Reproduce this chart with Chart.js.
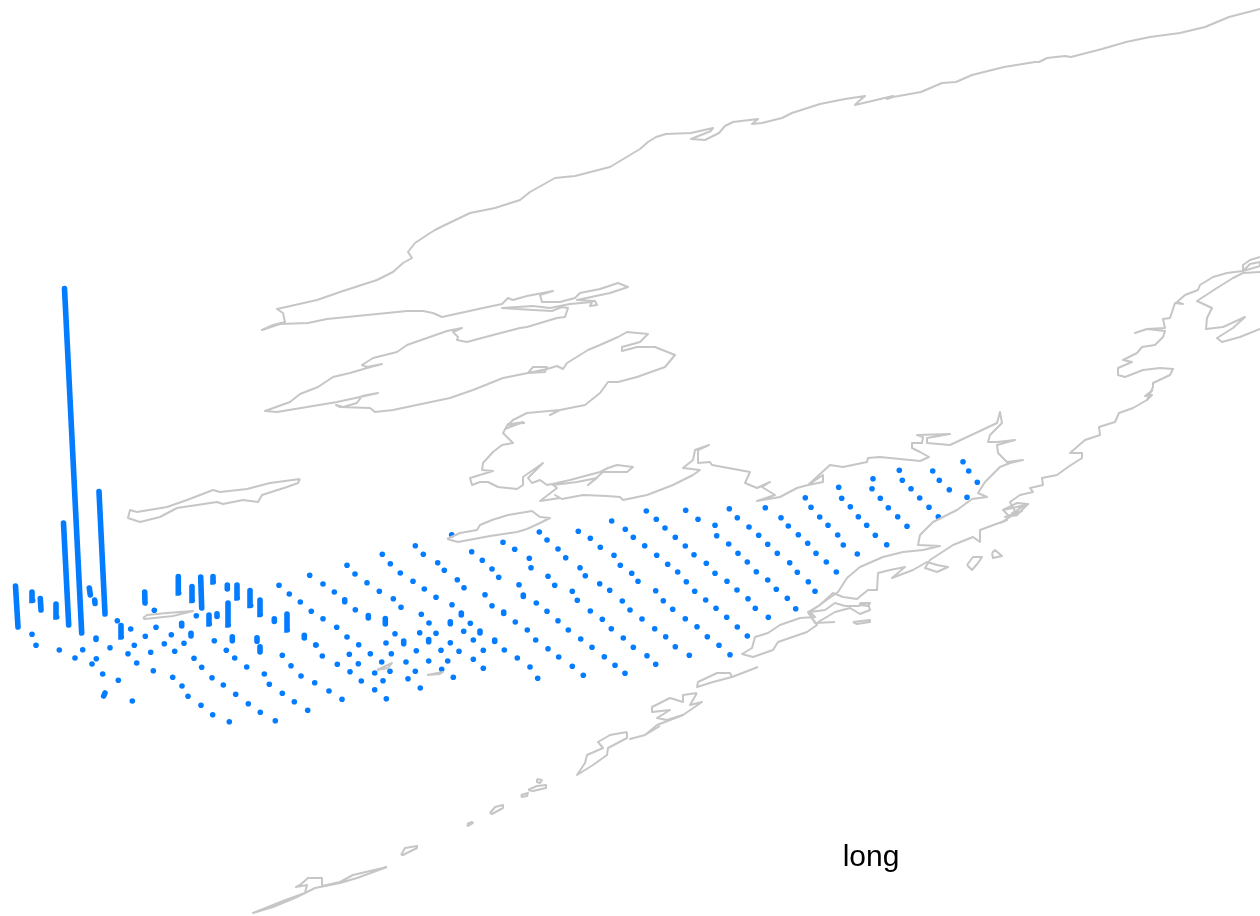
<!DOCTYPE html>
<html>
<head>
<meta charset="utf-8">
<title>long</title>
<script src="https://cdn.jsdelivr.net/npm/chart.js@4"></script>
<style>
html,body{margin:0;padding:0;background:#fff}
canvas{display:block}
</style>
</head>
<body>
<canvas id="myChart" width="1260" height="916"></canvas>
<script>
const axisName = "long"
const axisNameAt = [871, 858]
const markColor = "#047cff"
const coastColor = "#c6c6c6"

// stations with a visible value: [long, base, long at top, top]
const tallStations = [
[18,627,15.5,586],[32.7,600.5,32,592],[41,610,40.3,598.5],[56.7,617,56,604],
[68.7,625,63.5,523],[81.7,633,64.5,288.5],[90.3,595,89.3,588],[105,614,99,491.5],
[95,603.5,94.7,600],[121.3,637,121,625.5],[145,603,144.7,592],[178.7,593,178.3,576.5],
[192.3,600.5,192,586.5],[201.7,608,200.7,577],[213.3,582,213,576.5],[227.3,589,227.3,585],
[237.3,598,237,585],[250.7,605.5,250,590.5],[260.3,614.5,260,600],[209.3,624,209,615],
[217,616.5,217,613.7],[228.3,625,228,603],[274.3,621.5,274.3,618.7],[287.3,630,287,614],
[181.7,626,181.7,623.3],[191,636,191,633.3],[232.3,640.7,232.3,636.7],[257,641.3,257,637.7],
[260,652,260,646.7],[304.3,638,304.3,635.3],[96,639.5,96,638],[103.7,696,105,693],
[344.7,601.7,344.7,599.7],[368.3,618,368.3,615.5],[385.3,624,385.3,618.5],[403.7,643.7,403.7,641],
[428.7,641.7,428.7,639.5],[450.3,623.7,450.3,621.7],[461.3,615,461.3,613],[480,633,480,631],
[494.7,641.5,494.7,640],[503.7,613.5,503.7,612],[523.3,596.5,523.3,595]
]

// stations with almost nothing: long, lat pairs
const flatLong = [
117.3,130.7,154.3,279,289.3,300.3,311.3,309.7,196.3,156,145.3,171.3,164.3,184,174.7,150.7,134.3,128,136.7,110,
32,36,59.3,82.7,75,96.3,92,102.7,118.3,132.3,153.3,172.7,182,188,201,212.7,229.3,194,201.7,212,
223.3,235.7,248.3,260.3,275.3,214.3,226.3,234.7,246.7,264.3,269.3,282.3,294.3,307.7,282.3,291,301,314.7,315.7,323,
334.3,355.3,323,336.7,347,358.7,370.3,381.7,390,316,322.3,337.3,350,361.3,374.7,386.3,349.3,358.3,374.7,383,
329,342,347,355,367,379.3,393.3,401,382.3,390.3,400.3,413,424.3,436,452,470.3,504.3,517.3,530,537.7,
415.3,423.3,437.7,444.3,457.3,464,485,492,515.3,527.3,535.7,548,558.7,451.7,471.7,482.3,492,498.7,519,536.3,
547,558,503,514.7,529.3,531,548,554.7,539.3,547,558,421.3,429,419.7,436,463.7,473.3,483.3,450.3,441,
459,473.3,483.3,395,416.3,386,391.3,406,415.3,428.7,447.7,441.7,453.3,408,420.3,
646.3,656.3,665,675.3,685.3,694,706.3,715,727,737,748,755.3,768.3,685.7,698,715,716.7,728.7,738,747.3,
756.3,767.7,776.3,787.3,795.7,729.3,737.3,749,758.7,767.7,777.3,789.7,797.3,808.3,815,765.3,781,788.3,798.3,807.7,
816,826.3,836.3,805.3,811,819.7,828,837.7,611.7,625.3,633.3,644.7,656.7,667.7,677.7,686.3,694.7,705.7,716,726.7,
737.3,747.3,578.3,590.3,600.3,614,620.3,631.7,638,655.7,663.3,672.7,685.3,697,707.3,719,730,565.7,580,585.3,
599.7,609.7,622.3,630,642,654.7,665.7,675.3,689.3,572.3,577.3,590.3,602.3,611.3,623.3,633.3,647,655.7,568.3,580.7,
592,604.3,615,625,572.3,583.3,
963,968.7,977.3,967,932.7,939.3,949.3,899.3,902.3,911,919.7,929,938.3,873,872,880.3,888.3,897.7,907,838.7,
841.7,850.3,858.3,866.7,875.3,886.7,843.3,857.3
]
const flatLat = [
620.7,629,610.3,585.3,594,602,611.3,575.3,615.7,627.3,636.3,634.7,643.7,643.3,651.3,652.3,645.3,653.7,663,647.7,
634.3,645.3,650,649.7,658,658.7,664,674,680.3,701,670.7,677.3,686,696.3,705.3,714.7,721.7,658.3,667.3,677.7,
685,694.3,703.7,712.3,720.7,640.7,650.3,658,667,674,684.3,693.3,701.7,710.3,655.3,665.7,676,682.7,645,584,
592,609.7,618.7,627.3,637,644.7,653.7,662,671.3,645,656,664.3,671.7,681,689.7,698.7,654.3,663.7,673,680.7,
691,699.3,565.3,574,582.7,591.3,598.7,607.3,554.3,563.7,573,581.3,589,597.3,604.7,623.3,650,658,667,678.3,
545.7,554.3,562.7,570.3,579.7,587.7,594.7,605.7,622,630,640,648.7,657,534.7,551.7,560.3,569,577.3,584.7,603,
611.3,620.7,542.3,549.3,558.3,567.7,576.3,585.3,532,540,549,614.3,623,632.7,633.3,631.3,640,650.3,642.7,650.3,
651.3,659.3,668.3,633.7,650.7,643,653.7,662,671.3,661,661,669.3,677.3,678.7,688,
511,519.3,528,537.3,546,554.7,563.3,573.3,581.3,590,598.7,608.3,617.3,510.3,519.3,525.3,535.7,544,553.3,562,
571.7,580,589.3,598.3,608.7,508.7,517.7,527,535.3,544.3,553.3,562.7,572.3,581.7,591.3,507.7,517.7,526,534.7,543.3,
553.3,562,572,497.7,507.3,517,525.3,535,521,529.3,537.3,545.7,555.3,564.3,572,581.7,591.3,600,608.3,617.3,
627,636,531.3,538.3,547.3,555.3,565.3,573.3,581.3,590.7,600.7,609.3,618.7,626.7,636.7,645.3,654.7,557.7,567.7,575.7,
583.7,590.3,601,610,619,628.7,636.7,646.7,655.3,591.3,600.3,611,619.3,628.7,638,647.3,655.7,664.3,630,639,
647.3,656.7,665.3,673.3,666.3,675.3,
461.7,471,482.3,497.3,471,480.3,489.7,470.3,480.3,488.7,498,507.3,516.7,478.7,488.7,498.3,507.7,516.7,526.3,487.3,
498.3,506.7,516.7,525.3,535.3,544.7,545,554
]

// coast pieces, flat long,lat lists
const northCoast = [1260,9,1229,17,1205,27,1180,33,1150,37,1126,42,1102,49,1071,57,1065,56,1047,58,1039,62,1035,62,1004,67,972,75,956,82,942,83,921,92,893,97,887,99,893,96,855,105,859,101,865,96,845,99,820,104,792,113,782,118,762,123,752,124,758,119,733,122,725,126,719,133,705,140,691,139,711,131,713,128,691,133,666,134,656,137,648,142,640,149,610,167,575,176,555,178,530,192,520,200,495,208,470,213,445,225,435,230,427,235,415,243,408,252,412,258,403,263,393,272,377,280,343,291,317,300,277,309,283,313,285,322,273,325,262,330,280,324,308,323,327,319,377,314,407,311,423,311,433,313,442,317,483,308,502,304,508,298,513,300,527,296,553,291,540,295,542,302,560,302,575,298,580,293,600,289,618,283,628,287,610,293,577,300,595,301,597,305,590,306,592,302,570,304,550,308,533,306,502,308,533,310,552,311,562,307,568,308,565,317,557,318,527,327,520,328,493,335,467,342,457,340,458,337,453,332,462,328,447,331,407,345,397,352,373,358,362,365,367,367,382,364,367,368,350,373,333,377,318,387,300,394,290,402,265,411,277,412,307,407,337,402,360,397,378,393,362,396,357,403,343,407,336,405,340,407,370,408,375,412,393,410,450,398,473,390,503,378,528,373,533,367,547,367,545,372,528,373,547,369,557,366,563,369,567,363,588,350,600,345,618,337,627,332,648,334,640,342,622,347,622,351,637,347,655,347,675,355,665,367,637,377,618,382,608,382,600,393,585,405,560,410,550,415,560,410,527,413,513,420,508,425,523,422,505,429]
const midCoast = [525,423,508,424,503,433,513,443,502,445,493,452,483,463,482,470,493,471,470,478,472,485,480,482,488,482,498,487,517,489,523,485,523,477,543,463,528,478,532,483,540,480,547,485,557,483,570,480,600,472,608,468,617,465,633,467,627,472,603,472,588,485,597,478,577,482,553,485,557,488,540,501,560,498,555,495,562,499,583,495,607,496,620,497,623,500,647,495,673,485,693,475,700,470,683,468,693,460,695,450,709,445,698,450,698,463,710,462,712,465,750,472,745,483,757,488,770,482,762,487,775,495,757,501,780,497,797,488,808,485,823,482,823,475,808,485,830,465,843,467,867,462,868,458,880,457,920,461,929,457,920,452,912,448,912,443,922,443,923,437,917,435,950,434,927,438,927,443,950,445,997,423,1000,412,1002,423,990,435,988,442,997,442,1015,440,997,445,998,453,1007,462,1023,460,1010,463,1000,467,985,482,978,493,987,497,972,499,957,510,933,522,920,535,918,545,940,546,923,550,903,552,883,557,860,567,847,578,838,592,828,599,810,612,815,617,800,618,780,625,768,633,755,637,752,648,742,654,753,657,773,650,778,642,807,632,817,625,808,612]
const southCoast = [835,622,815,623,808,612,820,605,833,593,843,597,857,599,868,590,877,590,878,573,890,570,905,567,892,578,913,570,927,562,937,565,948,567,937,572,925,568,930,560,953,545,973,537,980,542,980,530,1007,520,1000,523,1010,517,1003,510,1017,503,1028,504,1017,515,1010,502,1020,495,1033,492,1030,488,1043,485,1042,478,1057,475,1068,467,1082,458,1082,453,1070,453,1085,440,1100,435,1099,427,1115,422,1119,413,1133,408,1147,400,1153,387,1153,383,1170,375,1173,369,1160,368,1143,370,1125,377,1118,375,1118,368,1132,362,1123,360,1137,353,1142,347,1155,345,1163,337,1165,331,1147,329,1135,333,1147,329,1165,328,1163,319,1170,318,1175,303,1183,304,1177,302,1185,295,1198,290,1200,285,1213,277,1227,273,1243,271,1243,265,1250,260,1260,257]
const farCoast = [1260,272,1243,273,1233,278,1217,288,1197,301,1212,308,1207,318,1206,329,1223,327,1245,317,1233,328,1217,338,1222,342,1240,337,1260,329]
const farLoop = [1243,271,1260,266,1260,262,1250,264,1243,271]
const longIsland = [300,479,270,483,247,489,220,492,213,490,187,500,167,507,137,512,130,510,128,518,140,522,160,517,177,508,217,502,223,504,243,500,258,502,262,495,287,487,298,483,300,479]
const sliver1 = [143,618,147,615,167,613,193,611,173,616,145,619,143,618]
const sliver2 = [377,670,392,663,388,668,377,670]
const sliver3 = [427,675,443,672,440,674,427,675]
const nearIsland = [447,539,460,533,477,530,480,525,492,520,508,515,532,511,540,517,550,518,540,523,527,529,517,532,490,536,458,542,447,539]
const chainA = [758,667,732,677,730,673,717,673,698,682,697,687,713,682,732,677]
const chainB = [697,693,683,695,683,702,670,698,652,707,652,712,670,710,657,718,667,720,683,715,702,702,690,705,697,693]
const chainC = [683,715,657,725,645,735,630,739,645,735,660,726]
const chainD = [627,732,610,735,598,742,603,748,587,755,585,763,577,775,593,765,607,755,608,748,627,738,627,732]
const dotIsle1 = [537,779,542,780,540,783,537,782,537,779]
const dotIsle2 = [528,790,537,786,546,785,546,788,533,791,528,790]
const dotIsle3 = [521,795,528,793,527,796,522,797,521,795]
const dotIsle4 = [490,813,495,807,503,805,503,808,492,814,490,813]
const dotIsle5 = [467,824,472,822,473,823,468,826,467,824]
const dotIsle6 = [401,855,405,848,417,846,417,848,403,855,401,855]
const tailIsles = [387,867,353,875,340,882,322,886,322,878,308,878,300,885,296,887,307,885,305,893,283,901,253,913,273,907,297,897,315,888,340,883,357,878,387,867]
const rockA = [967,565,973,557,982,557,978,563,972,570,967,565]
const rockB = [992,553,995,550,1002,556,993,558,992,553]
const rockC = [853,622,870,620,870,622,857,624,853,622]
const rockD = [860,603,870,603,868,606,860,605,860,603]
const bayScribble = [810,612,825,610,835,603,845,606,858,606,868,603,870,610,860,614,850,608,835,612,825,618,818,622]
const capeScribble = [1003,510,1017,507,1028,504,1012,513,1022,511,1005,517,1018,515]
const shoreScribble = [1147,400,1152,395,1145,396,1153,390]

const coastPieces = [northCoast,midCoast,southCoast,farCoast,farLoop,longIsland,sliver1,sliver2,sliver3,nearIsland,chainA,chainB,chainC,chainD,dotIsle1,dotIsle2,dotIsle3,dotIsle4,dotIsle5,dotIsle6,tailIsles,rockA,rockB,rockC,rockD,bayScribble,capeScribble,shoreScribble]

function toPoints(list){
    let out=[]
    for(let i=0;i<list.length;i+=2){
        out.push({x:list[i],y:list[i+1]})
    }
    return out
}

let datasets=[]
coastPieces.forEach(piece=>{
    datasets.push({
        data:toPoints(piece),
        showLine:true,
        borderColor:coastColor,
        borderWidth:2,
        pointRadius:0,
        tension:0,
        borderJoinStyle:"round"
    })
})
tallStations.forEach(s=>{
    datasets.push({
        data:toPoints(s),
        showLine:true,
        borderColor:markColor,
        borderWidth:5.6,
        borderCapStyle:"round",
        pointRadius:0,
        tension:0
    })
})
datasets.push({
    data:flatLong.map((x,i)=>({x:x,y:flatLat[i]})),
    showLine:false,
    backgroundColor:markColor,
    borderColor:markColor,
    borderWidth:0,
    pointRadius:2.8
})

// axis name sits in the map, not under it
const axisNamePlugin = {
    id:"axisName",
    afterDraw(chart){
        let ctx=chart.ctx
        ctx.save()
        ctx.fillStyle="#000"
        ctx.font="30px 'Liberation Sans'"
        ctx.textAlign="center"
        ctx.textBaseline="middle"
        ctx.fillText(axisName,chart.scales.x.getPixelForValue(axisNameAt[0]),chart.scales.y.getPixelForValue(axisNameAt[1]))
        ctx.restore()
    }
}

new Chart("myChart",{
    type:"scatter",
    data:{datasets:datasets},
    plugins:[axisNamePlugin],
    options:{
        responsive:false,
        animation:false,
        devicePixelRatio:1,
        layout:{padding:0,autoPadding:false},
        plugins:{legend:{display:false},tooltip:{enabled:false},title:{display:false}},
        scales:{
            x:{type:"linear",min:0,max:1260,display:false},
            y:{type:"linear",min:0,max:916,reverse:true,display:false}
        }
    }
})
</script>
</body>
</html>
